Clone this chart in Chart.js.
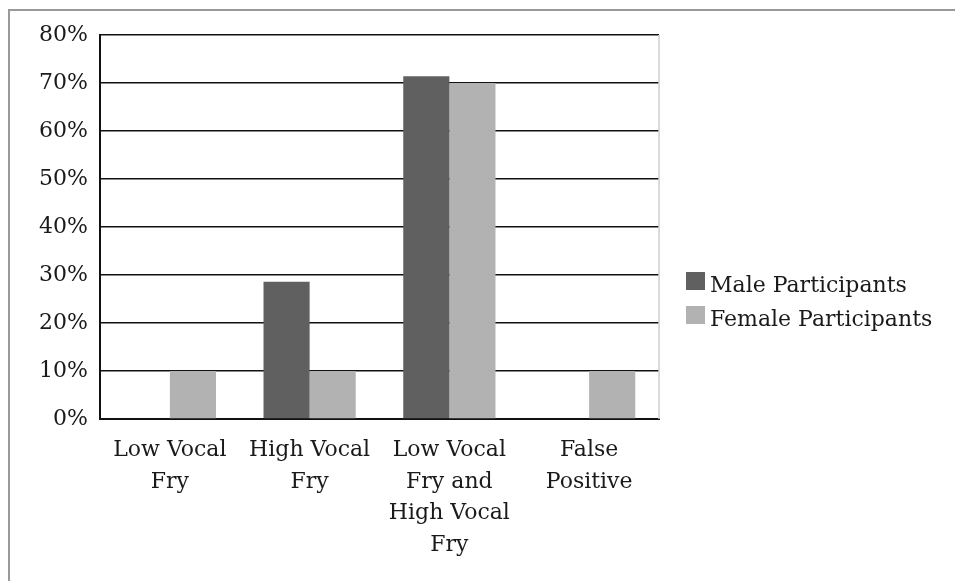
<!DOCTYPE html>
<html>
<head>
<meta charset="utf-8">
<script src="https://cdn.jsdelivr.net/npm/chart.js@4/dist/chart.umd.min.js"></script>
<style>
    html, body { margin: 0; padding: 0; background: #fff; }
    #frame {
        position: absolute;
        left: 8px;
        top: 9px;
        width: 955px;
        height: 581px;
        border-left: 2px solid #999;
        border-top: 2px solid #999;
    }
    #chart1 { position: absolute; left: 0; top: 0; }
</style>
</head>
<body>
<div id="frame"></div>
<canvas id="chart1" width="955" height="581"></canvas>
<script>
const categories = [
    ["Low Vocal", "Fry"],
    ["High Vocal", "Fry"],
    ["Low Vocal", "Fry and", "High Vocal", "Fry"],
    ["False", "Positive"],
];
const maleValues = [0, 28.57, 71.43, 0];
const femaleValues = [10, 10, 70, 10];
const seriesNames = ["Male Participants", "Female Participants"];
const seriesColors = ["#606060", "#b2b2b2"];

const fontFamily = "'DejaVu Serif', serif";

// legend drawn by hand so it sits where the original has it,
// plus the faint right edge of the plot area
const sideLegend = {
    id: "sideLegend",
    afterDraw(chart) {
        const ctx = chart.ctx;
        const area = chart.chartArea;
        ctx.save();
        ctx.strokeStyle = "#cfcfcf";
        ctx.lineWidth = 1.5;
        ctx.beginPath();
        ctx.moveTo(area.right, area.top);
        ctx.lineTo(area.right, area.bottom);
        ctx.stroke();

        ctx.font = "22px " + fontFamily;
        ctx.textBaseline = "alphabetic";
        ctx.textAlign = "left";
        chart.data.datasets.forEach((ds, i) => {
            const top = 272 + i * 34;
            ctx.fillStyle = ds.backgroundColor;
            ctx.fillRect(686, top, 19, 18);
            ctx.fillStyle = "#1a1a1a";
            ctx.fillText(ds.label, 710, top + 20);
        });
        ctx.restore();
    },
};

new Chart(document.getElementById("chart1"), {
    type: "bar",
    data: {
        labels: categories,
        datasets: [
            {
                label: seriesNames[0],
                data: maleValues,
                backgroundColor: seriesColors[0],
            },
            {
                label: seriesNames[1],
                data: femaleValues,
                backgroundColor: seriesColors[1],
            },
        ],
    },
    options: {
        responsive: false,
        animation: false,
        devicePixelRatio: 1,
        categoryPercentage: 0.66,
        barPercentage: 1,
        layout: {
            padding: { top: 35, right: 296, bottom: 0, left: 0 },
        },
        plugins: {
            legend: { display: false },
            tooltip: { enabled: false },
        },
        scales: {
            x: {
                afterFit: (s) => { s.height = 162; },
                grid: { display: false, drawTicks: false },
                border: { color: "#111", width: 2 },
                ticks: {
                    color: "#1a1a1a",
                    padding: 15,
                    maxRotation: 0,
                    autoSkip: false,
                    font: { family: fontFamily, size: 22, lineHeight: 1.45 },
                },
            },
            y: {
                min: 0,
                max: 80,
                afterFit: (s) => { s.width = 100; },
                grid: {
                    drawTicks: false,
                    color: "#111",
                    lineWidth: 1.5,
                },
                border: { color: "#111", width: 2 },
                ticks: {
                    stepSize: 10,
                    padding: 12,
                    color: "#1a1a1a",
                    font: { family: fontFamily, size: 22 },
                    callback: (v) => v + "%",
                },
            },
        },
    },
    plugins: [sideLegend],
});
</script>
</body>
</html>
